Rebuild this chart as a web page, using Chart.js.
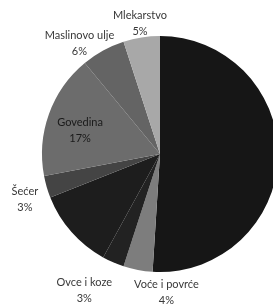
<!DOCTYPE html>
<html>
<head>
<meta charset="utf-8">
<script src="https://cdn.jsdelivr.net/npm/chart.js@4"></script>
<style>
  html, body { margin: 0; padding: 0; background: #fff; overflow: hidden; width: 273px; height: 304px; }
  #wrap { position: absolute; left: 0; top: 0; }
</style>
</head>
<body>
<div id="wrap"><canvas id="chart1" width="320" height="304"></canvas></div>
<script>
// slices, clockwise from 12 o'clock (unlabelled ones have their text hidden in the dark fill)
const categories = ['', 'Voće i povrće', 'Ovce i koze', '', 'Šećer', 'Govedina', 'Maslinovo ulje', 'Mlekarstvo']
const shares = [51, 4, 3, 11, 3, 17, 6, 5]
const percentLabels = ['', '4%', '3%', '', '3%', '17%', '6%', '5%']

const sliceColors = ['#161616', '#7d7d7d', '#222222', '#1d1d1d', '#444444', '#6c6c6c', '#646464', '#a8a8a8']
const insideLabel = [false, false, false, false, false, true, false, false]
// little pushes for labels that got moved apart to avoid overlapping
const labelNudge = [[0, 0], [35, 5], [-17, 12], [0, 0], [-7, 8], [0, 5], [-6, 9], [3, 4]]

const pieLabels = {
    id: 'pieLabels',
    afterDatasetsDraw(chart) {
        const ctx = chart.ctx
        const arcs = chart.getDatasetMeta(0).data
        ctx.save()
        ctx.font = '11px Lato'
        ctx.textAlign = 'center'
        ctx.textBaseline = 'middle'
        const lh = 16
        arcs.forEach((arc, i) => {
            if (!categories[i]) return
            const p = arc.getProps(['x', 'y', 'startAngle', 'endAngle', 'outerRadius'], true)
            const mid = (p.startAngle + p.endAngle) / 2
            const dx = Math.cos(mid), dy = Math.sin(mid)
            let cx, cy
            if (insideLabel[i]) {
                cx = p.x + dx * p.outerRadius * 0.72
                cy = p.y + dy * p.outerRadius * 0.72
                ctx.fillStyle = '#1a1a1a'
            } else {
                const w = Math.max(ctx.measureText(categories[i]).width, ctx.measureText(percentLabels[i]).width)
                const h = lh * 2
                const ax = p.x + dx * (p.outerRadius + 2)
                const ay = p.y + dy * (p.outerRadius + 2)
                cx = ax + dx * w / 2
                cy = ay + dy * h / 2
                ctx.fillStyle = '#383838'
            }
            cx += labelNudge[i][0]
            cy += labelNudge[i][1]
            ctx.fillText(categories[i], cx, cy - lh / 2)
            ctx.fillText(percentLabels[i], cx, cy + lh / 2)
        })
        ctx.restore()
    }
}

const data = {
    labels: categories,
    datasets: [{
        data: shares,
        backgroundColor: sliceColors,
        borderWidth: 0
    }]
}

let options = {
    responsive: false,
    animation: false,
    layout: { padding: { left: 42, right: 42, top: 36, bottom: 32 } },
    plugins: {
        legend: { display: false },
        tooltip: { enabled: false }
    }
}

new Chart('chart1', { type: 'pie', data, options, plugins: [pieLabels] })
</script>
</body>
</html>
